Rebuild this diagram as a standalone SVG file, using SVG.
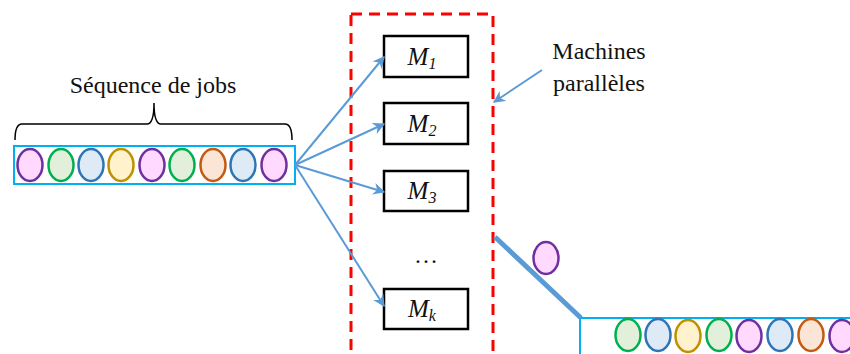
<svg xmlns="http://www.w3.org/2000/svg" width="850" height="354" viewBox="0 0 850 354">
  <style>
    text { font-family: 'Liberation Serif', 'DejaVu Serif', 'Times New Roman', serif; }
    .lbl { font-size: 24px; fill: #111; }
    .mlbl { font-size: 25px; font-style: italic; fill: #111; }
    .sub { font-size: 16px; }
    .machine { fill: #fff; stroke: #000; stroke-width: 2.5; }
    .queue { fill: #fff; stroke: #00B0F0; stroke-width: 2; }
    .job { stroke-width: 2.5; }
    .p { fill: #FFD9FF; stroke: #7030A0; }
    .g { fill: #E2EFDA; stroke: #00B050; }
    .b { fill: #DEEBF7; stroke: #2E75B6; }
    .y { fill: #FFF2CC; stroke: #BF9000; }
    .o { fill: #FBE5D6; stroke: #C55A11; }
    .arrow { stroke: #5B9BD5; stroke-width: 2; fill: none; marker-end: url(#head); }
  </style>
  <defs>
    <marker id="head" viewBox="0 0 10 10" refX="9" refY="5" markerWidth="6" markerHeight="6" orient="auto" markerUnits="strokeWidth">
      <path d="M0,0 L10,5 L0,10 L3,5 Z" fill="#5B9BD5"/>
    </marker>
    <ellipse id="job" rx="12.5" ry="16"/>
  </defs>

  <rect width="850" height="354" fill="#fff"/>

  <!-- Job sequence -->
  <g id="sequence">
    <text class="lbl" x="153" y="93" text-anchor="middle">Séquence de jobs</text>
    <path d="M15,140 Q15,124 22,124 L147,124 Q154,124 154,103 Q154,124 161,124 L285,124 Q292,124 292,140" fill="none" stroke="#000" stroke-width="1.5"/>
    <rect class="queue" x="14" y="146" width="281" height="38"/>
    <g class="job">
      <use href="#job" class="p" x="30" y="165"/>
      <use href="#job" class="g" x="61" y="165"/>
      <use href="#job" class="b" x="91" y="165"/>
      <use href="#job" class="y" x="121" y="165"/>
      <use href="#job" class="p" x="152" y="165"/>
      <use href="#job" class="g" x="182" y="165"/>
      <use href="#job" class="o" x="213" y="165"/>
      <use href="#job" class="b" x="243" y="165"/>
      <use href="#job" class="p" x="274" y="165"/>
    </g>
  </g>

  <!-- Parallel machines group -->
  <g id="machine-group">
    <rect x="351" y="14" width="142" height="350" fill="none" stroke="#FF0000" stroke-width="3" stroke-dasharray="11,7"/>
  </g>

  <g id="M1">
    <rect class="machine" x="384" y="36" width="84" height="41"/>
    <text class="mlbl" x="422" y="65" text-anchor="middle">M<tspan class="sub" dy="4">1</tspan></text>
  </g>
  <g id="M2">
    <rect class="machine" x="384" y="103" width="84" height="41"/>
    <text class="mlbl" x="422" y="132" text-anchor="middle">M<tspan class="sub" dy="4">2</tspan></text>
  </g>
  <g id="M3">
    <rect class="machine" x="384" y="171" width="84" height="40"/>
    <text class="mlbl" x="422" y="199" text-anchor="middle">M<tspan class="sub" dy="4">3</tspan></text>
  </g>
  <g id="dots">
    <text class="lbl" x="426" y="263" text-anchor="middle">…</text>
  </g>
  <g id="Mk">
    <rect class="machine" x="384" y="289" width="84" height="40"/>
    <text class="mlbl" x="422" y="317" text-anchor="middle">M<tspan class="sub" dy="4">k</tspan></text>
  </g>

  <!-- Callout label -->
  <g id="callout">
    <text class="lbl" x="599" y="59" text-anchor="middle">Machines</text>
    <text class="lbl" x="599" y="91" text-anchor="middle">parallèles</text>
  </g>

  <!-- Output queue -->
  <g id="output">
    <path d="M580,354 L580,318 L850,318" fill="none" stroke="#00B0F0" stroke-width="2"/>
    <g class="job">
      <use href="#job" class="p" x="546" y="258"/>
      <use href="#job" class="g" x="628" y="335"/>
      <use href="#job" class="b" x="658" y="335"/>
      <use href="#job" class="y" x="688" y="336"/>
      <use href="#job" class="g" x="719" y="335"/>
      <use href="#job" class="p" x="749" y="336"/>
      <use href="#job" class="b" x="780" y="335"/>
      <use href="#job" class="o" x="811" y="335"/>
      <use href="#job" class="p" x="842" y="336"/>
    </g>
  </g>

  <!-- Connectors -->
  <g id="connectors">
    <line class="arrow" x1="295" y1="165" x2="384" y2="57"/>
    <line class="arrow" x1="295" y1="165" x2="384" y2="124"/>
    <line class="arrow" x1="295" y1="165" x2="384" y2="192"/>
    <line class="arrow" x1="295" y1="165" x2="384" y2="306"/>
    <line class="arrow" x1="542" y1="70" x2="494" y2="102" stroke-width="2.5"/>
    <line x1="495" y1="237" x2="581" y2="318" stroke="#5B9BD5" stroke-width="5"/>
  </g>
</svg>
